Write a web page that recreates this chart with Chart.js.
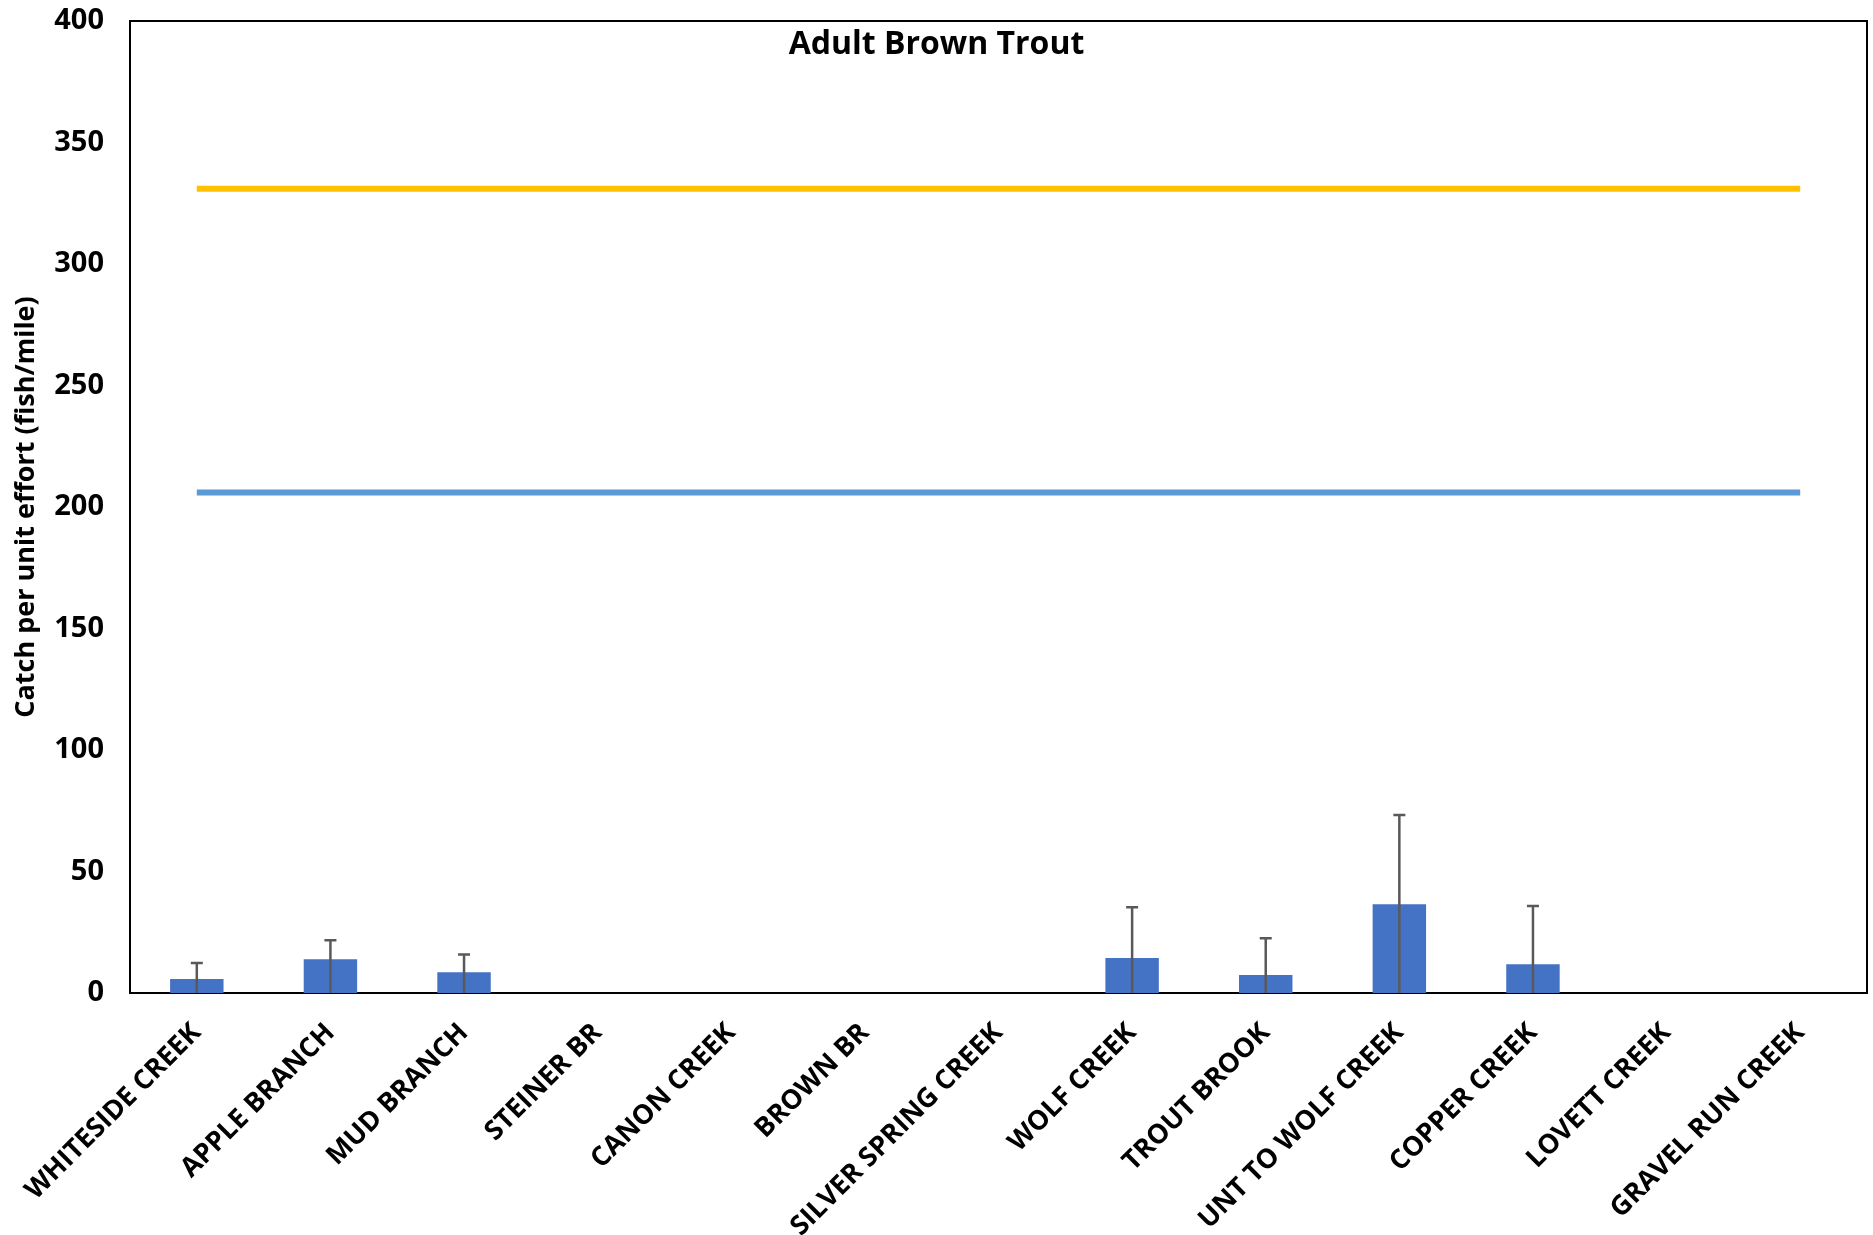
<!DOCTYPE html>
<html>
<head>
<meta charset="utf-8">
<title>Adult Brown Trout</title>
<script src="https://cdn.jsdelivr.net/npm/chart.js@4/dist/chart.umd.min.js"></script>
<style>
  html, body { margin: 0; padding: 0; background: #ffffff; }
  #wrap { width: 1873px; height: 1235px; }
</style>
</head>
<body>
<div id="wrap"><canvas id="c" width="1873" height="1235"></canvas></div>
<script>
// Sampled streams
const sites = [
  'WHITESIDE CREEK', 'APPLE BRANCH', 'MUD BRANCH', 'STEINER BR', 'CANON CREEK',
  'BROWN BR', 'SILVER SPRING CREEK', 'WOLF CREEK', 'TROUT BROOK', 'UNT TO WOLF CREEK',
  'COPPER CREEK', 'LOVETT CREEK', 'GRAVEL RUN CREEK'
];

// Mean catch per unit effort (fish/mile); null where none were caught
const cpue = [5.8, 13.9, 8.5, null, null, null, null, 14.4, 7.4, 36.5, 11.8, null, null];

// Upper error bar length (fish/mile)
const cpueErr = [6.5, 7.8, 7.3, null, null, null, null, 20.9, 15.1, 36.8, 24.0, null, null];

// Reference levels drawn across all streams
const upperRef = 331;
const lowerRef = 206;

const yTicks = [0, 50, 100, 150, 200, 250, 300, 350, 400];

const FONT = "'Open Sans', 'Noto Sans', sans-serif";

// Frame around the plotting area
const frame = {
  id: 'frame',
  beforeDatasetsDraw(chart) {
    const { ctx, chartArea: a } = chart;
    ctx.save();
    ctx.strokeStyle = '#000000';
    ctx.lineWidth = 2;
    ctx.strokeRect(a.left, a.top, a.right - a.left, a.bottom - a.top);
    ctx.restore();
  }
};

// Plus-only error bars on the CPUE bars
const errorBars = {
  id: 'errorBars',
  afterDatasetsDraw(chart) {
    const { ctx } = chart;
    const meta = chart.getDatasetMeta(0);
    const y = chart.scales.y;
    ctx.save();
    ctx.strokeStyle = '#595959';
    ctx.lineWidth = 2.5;
    meta.data.forEach((bar, i) => {
      if (cpue[i] == null || cpueErr[i] == null) return;
      const x = bar.x;
      const y0 = y.getPixelForValue(0);
      const y1 = y.getPixelForValue(cpue[i] + cpueErr[i]);
      ctx.beginPath();
      ctx.moveTo(x, y0);
      ctx.lineTo(x, y1);
      ctx.moveTo(x - 6, y1);
      ctx.lineTo(x + 6, y1);
      ctx.stroke();
    });
    ctx.restore();
  }
};

// Chart heading sits inside the frame near its top edge
const heading = {
  id: 'heading',
  afterDraw(chart) {
    const { ctx } = chart;
    ctx.save();
    ctx.fillStyle = '#000000';
    ctx.font = `bold 32px ${FONT}`;
    ctx.textAlign = 'center';
    ctx.textBaseline = 'middle';
    ctx.fillText('Adult Brown Trout', chart.width / 2, 45);
    ctx.restore();
  }
};

new Chart(document.getElementById('c'), {
  data: {
    labels: sites,
    datasets: [
      {
        type: 'bar',
        label: 'CPUE',
        data: cpue,
        backgroundColor: '#4472C4',
        borderWidth: 0,
        barPercentage: 0.4,
        categoryPercentage: 1.0,
        order: 2
      },
      {
        type: 'line',
        label: 'Upper reference',
        data: sites.map(() => upperRef),
        borderColor: '#FFC000',
        borderWidth: 6,
        pointRadius: 0,
        fill: false,
        order: 1
      },
      {
        type: 'line',
        label: 'Lower reference',
        data: sites.map(() => lowerRef),
        borderColor: '#5B9BD5',
        borderWidth: 6,
        pointRadius: 0,
        fill: false,
        order: 1
      }
    ]
  },
  options: {
    responsive: false,
    animation: false,
    devicePixelRatio: 1,
    layout: { padding: { left: 0, right: 6, top: 21, bottom: 0 } },
    plugins: {
      legend: { display: false },
      title: { display: false },
      tooltip: { enabled: false }
    },
    scales: {
      x: {
        offset: true,
        grid: { display: false, drawTicks: false },
        border: { display: false },
        ticks: {
          autoSkip: false,
          maxRotation: 45,
          minRotation: 45,
          padding: 24,
          color: '#000000',
          font: { family: FONT, size: 27, weight: 'bold' }
        },
        afterFit(scale) { scale.height = 1235 - 993; }
      },
      y: {
        min: 0,
        max: 400,
        afterBuildTicks(scale) { scale.ticks = yTicks.map(v => ({ value: v })); },
        grid: { display: false, drawTicks: false },
        border: { display: false },
        ticks: {
          padding: 26,
          color: '#000000',
          font: { family: FONT, size: 29, weight: 'bold' }
        },
        title: {
          display: true,
          text: 'Catch per unit effort (fish/mile)',
          color: '#000000',
          font: { family: FONT, size: 27, weight: 'bold' },
          padding: { top: 10, bottom: 0 }
        },
        afterFit(scale) {
          scale.width = 130;
          // the top tick label may overhang the frame; let layout padding set the top edge
          scale.paddingTop = 0;
        }
      }
    }
  },
  plugins: [frame, errorBars, heading]
});
</script>
</body>
</html>
